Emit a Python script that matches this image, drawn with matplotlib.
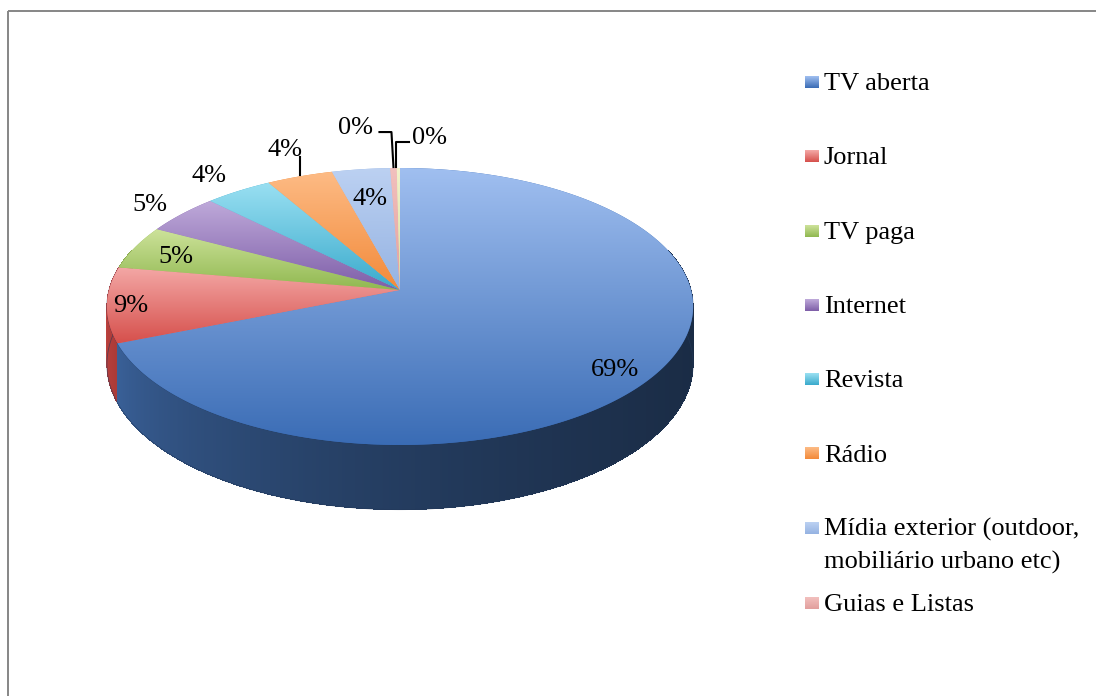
import numpy as np
import matplotlib
matplotlib.use("Agg")
import matplotlib.pyplot as plt
from matplotlib.patches import Polygon, Rectangle
from matplotlib.collections import PolyCollection
from matplotlib.colors import to_rgb

# ---- data ----
categories = ["TV aberta", "Jornal", "TV paga", "Internet", "Revista", "Rádio",
              "Mídia exterior (outdoor,\nmobiliário urbano etc)", "Guias e Listas", "Cinema"]
shares = [68.9, 8.8, 5.1, 4.7, 4.2, 4.1, 3.6, 0.4, 0.2]
n_legend = 8  # last entry (Cinema) is cut off from the legend box in the original

# ---- styles ----
top_light = ['#a0bff0', '#f4a9a7', '#cde29a', '#bfaada', '#9ae0f2', '#fdbb85',
             '#bcd1f2', '#f2c0be', '#f2f2cc']
top_dark = ['#3a6cb5', '#d6504c', '#90b850', '#7e5ea8', '#3aaacc', '#f28a3a',
            '#95b3e2', '#e29f9d', '#d8e0a2']
side_col = ['#4a7cc4', '#dc4c48', '#9bbb59', '#8064a2', '#4bacc6', '#f79646',
            '#a0bce8', '#e8a8a6', '#d0dca8']

plt.rcParams['font.family'] = ['Liberation Serif', 'DejaVu Serif']
FS = 19

fig = plt.figure(figsize=(10.96, 6.96), dpi=100)
ax = fig.add_axes([0, 0, 1, 1])
ax.set_xlim(0, 1096)
ax.set_ylim(696, 0)
ax.axis('off')

# chart frame (only left/top edges are inside the picture)
ax.add_patch(Rectangle((8, 10.5), 1100, 700, fill=False, ec='#868686', lw=1.4, zorder=0))

# ---- 3D pie geometry (pixel space, slight perspective) ----
CX, CY, A, C, K, H = 400, 290, 291, 136.5, 0.119, 57


def proj(theta, r=1.0, z=0.0):
    t = np.radians(theta)
    u, v = r * np.sin(t), r * np.cos(t)
    w = 1 + K * v
    return CX + A * u / w, CY - (C * v - z) / w


def shade(theta):
    s = np.clip((theta - 90) / 180.0, 0, 1)
    return 0.35 + 0.55 * s ** 2


edges = np.concatenate([[0], np.cumsum(shares)]) / sum(shares) * 360
mids = (edges[:-1] + edges[1:]) / 2

# side wall, drawn far-to-near
polys, cols, depth = [], [], []
for i in range(len(shares)):
    n = max(2, int((edges[i + 1] - edges[i]) * 3) + 2)
    ts = np.linspace(edges[i], edges[i + 1], n)
    for t0, t1 in zip(ts[:-1], ts[1:]):
        tm = (t0 + t1) / 2
        if np.cos(np.radians(tm)) > 0.3:
            continue
        polys.append([proj(t0), proj(t1), proj(t1, z=H), proj(t0, z=H)])
        cols.append(np.clip(np.array(to_rgb(side_col[i])) * shade(tm), 0, 1))
        depth.append(np.cos(np.radians(tm)))
order = np.argsort(depth)[::-1]
side = PolyCollection([polys[j] for j in order], facecolors=[cols[j] for j in order],
                      edgecolors='none', antialiased=False, zorder=1)
ax.add_collection(side)
# soft outline of the wall so the edge isn't jagged
ts = np.linspace(80, 280, 300)
outline = [proj(t) for t in ts] + [proj(t, z=H) for t in ts[::-1]]
ax.add_patch(Polygon(outline, closed=True, fc='none', ec='#23395a', lw=0.6, zorder=1.5, alpha=0.6))

# top faces with vertical gradient
for i in range(len(shares)):
    ts = np.linspace(edges[i], edges[i + 1], max(3, int(edges[i + 1] - edges[i]) * 2))
    pts = [(CX, CY)] + [proj(t) for t in ts]
    poly = Polygon(pts, closed=True, fc=top_dark[i], ec='none', zorder=2)
    ax.add_patch(poly)
    xs, ys = zip(*pts)
    g = np.linspace(0, 1, 256)[:, None, None]
    img = (1 - g) * np.array(to_rgb(top_light[i])) + g * np.array(to_rgb(top_dark[i]))
    img = np.repeat(img, 2, axis=1)
    im = ax.imshow(img, extent=(min(xs) - 1, max(xs) + 1, max(ys), min(ys)), origin='upper',
                   aspect='auto', interpolation='bilinear', zorder=3)
    im.set_clip_path(poly)

ax.set_xlim(0, 1096)
ax.set_ylim(696, 0)

# ---- data labels ----
pct = [f"{s:.0f}%" for s in shares]
half_cap = 8.5
label_r = {0: 0.84, 1: 0.92, 2: 0.84, 3: 1.16, 4: 1.2, 6: 0.75}
for i, r in label_r.items():
    x, y = proj(mids[i], r)
    if i == 0:
        y += 10
    ax.text(x, y + half_cap, pct[i], ha='center', va='baseline', fontsize=FS, zorder=5)

# Rádio: straight leader up
rx, ry = proj(mids[5])
ax.plot([rx, rx], [ry - 1, ry - 19], color='black', lw=1.5, zorder=5)
ax.text(rx - 15, ry - 29 + half_cap, pct[5], ha='center', va='baseline', fontsize=FS, zorder=5)

# Guias e Listas: elbow leader to the left
rx, ry = proj(mids[7])
ax.plot([rx, rx - 2, rx - 14], [ry - 1, ry - 36, ry - 36], color='black', lw=1.5, zorder=5)
ax.text(rx - 20, ry - 43 + half_cap, pct[7], ha='right', va='baseline', fontsize=FS, zorder=5)

# Cinema: elbow leader to the right
rx, ry = proj(mids[8])
ax.plot([rx - 2, rx - 2, rx + 11], [ry - 1, ry - 26, ry - 26], color='black', lw=1.5, zorder=5)
ax.text(rx + 14, ry - 33 + half_cap, pct[8], ha='left', va='baseline', fontsize=FS, zorder=5)

# ---- legend ----
base_y = list(90 + 74.3 * np.arange(7)) + [611]
for i in range(n_legend):
    by = base_y[i]
    g = np.linspace(0, 1, 32)[:, None, None]
    img = (1 - g) * np.array(to_rgb(top_light[i])) + g * np.array(to_rgb(top_dark[i]))
    img = np.repeat(img, 2, axis=1)
    ax.imshow(img, extent=(805, 819, by - 2, by - 14), origin='upper',
              aspect='auto', interpolation='bilinear', zorder=5)
    for k, line in enumerate(categories[i].split("\n")):
        ax.text(824, by + 33 * k, line, ha='left', va='baseline', fontsize=FS, zorder=5)

ax.set_xlim(0, 1096)
ax.set_ylim(696, 0)

fig.savefig("out.png", dpi=100)
